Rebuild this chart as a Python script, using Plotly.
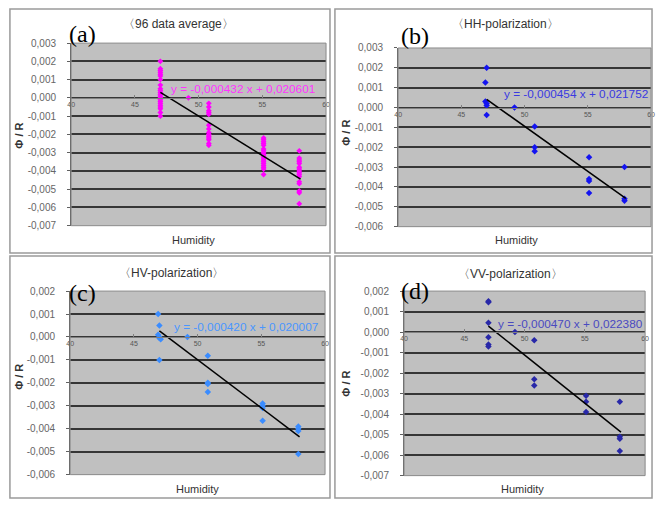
import plotly.graph_objects as go

# ---------------- data ----------------
a_x = [47]*22 + [49.2] + [50.8]*14 + [55.1]*18 + [57.9]*16
a_y = [0.0020, 0.0016, 0.0015, 0.0014, 0.0013, 0.0012, 0.0010, 0.0007, 0.0005, 0.0004, 0.0003,
       0.0002, 0.0001, 0.0000, -0.0001, -0.0002, -0.0003, -0.0004, -0.0005, -0.0006, -0.0008, -0.0010,
       0.0000,
       -0.0003, -0.0005, -0.0007, -0.0008, -0.0009, -0.0015, -0.0017, -0.0019, -0.0020, -0.0021,
       -0.0022, -0.0023, -0.0025, -0.0026,
       -0.0022, -0.0023, -0.0024, -0.0025, -0.0026, -0.0028, -0.0029, -0.0030, -0.0031, -0.0032,
       -0.0033, -0.0034, -0.0035, -0.0036, -0.0037, -0.0038, -0.0039, -0.0042,
       -0.0029, -0.0033, -0.0034, -0.0035, -0.0036, -0.0038, -0.0039, -0.0040, -0.0041, -0.0042,
       -0.0043, -0.0046, -0.0047, -0.0051, -0.0052, -0.0058]

b_x = [47, 46.9, 46.9, 47, 47, 47, 49.2, 50.8, 50.8, 50.8, 55.1, 55.1, 55.1, 55.1, 57.9, 57.9, 57.9]
b_y = [0.0020, 0.00126, 0.0003, 0.0002, 0.0001, -0.00037, 0.0000, -0.00095, -0.0020, -0.0022,
       -0.0025, -0.0036, -0.0037, -0.0043, -0.0030, -0.0046, -0.0047]

c_x = [46.9, 47, 46.9, 47, 47, 47.1, 47, 49.2, 50.8, 50.8, 50.8, 50.8, 55.1, 55.1, 55.1, 55.1,
       57.9, 57.9, 57.9, 57.9]
c_y = [0.0010, 0.0005, 0.0001, 0.0000, -0.00005, -0.0001, -0.0010, 0.0000, -0.00082, -0.0020,
       -0.00205, -0.0024, -0.0029, -0.0030, -0.0031, -0.00365, -0.0039, -0.0040, -0.0041, -0.0051]

d_x = [47, 47, 47, 47, 47, 47, 49.2, 50.8, 50.8, 50.8, 55.1, 55.1, 55.1, 57.9, 57.9, 57.9, 57.9]
d_y = [0.0015, 0.00145, 0.00046, -0.00025, -0.0006, -0.0007, 0.0000, -0.0004, -0.0023, -0.0026,
       -0.0031, -0.0034, -0.0039, -0.0034, -0.0051, -0.0052, -0.0058]

slopes = [-0.000432, -0.000454, -0.000420, -0.000470]
intercepts = [0.020601, 0.021752, 0.020007, 0.022380]
fit_x = [47, 58]

titles = ["〈96 data average〉", "〈HH-polarization〉", "〈HV-polarization〉", "〈VV-polarization〉"]
panel_tags = ["(a)", "(b)", "(c)", "(d)"]
eq_texts = ["y = -0,000432 x + 0,020601", "y = -0,000454 x + 0,021752",
            "y = -0,000420 x + 0,020007", "y = -0,000470 x + 0,022380"]
x_tickvals = [40, 45, 50, 55, 60]
x_ticktext = ["40", "45", "50", "55", "60"]
y_ranges = [(-0.007, 0.003), (-0.006, 0.003), (-0.006, 0.002), (-0.007, 0.002)]
y_tickvals_all = [0.003, 0.002, 0.001, 0.0, -0.001, -0.002, -0.003, -0.004, -0.005, -0.006, -0.007]
y_ticktext_all = ["0,003", "0,002", "0,001", "0,000", "-0,001", "-0,002", "-0,003",
                  "-0,004", "-0,005", "-0,006", "-0,007"]
x_title = "Humidity"
y_title = "Φ / R"

# ---------------- layout helpers ----------------
W, H = 658, 507
def px(x): return x / W
def py(y): return 1 - y / H

boxes = [(68, 38, 326, 225), (399, 43, 655, 226), (67, 292, 325, 480), (405, 292, 649, 481)]
frames = [(6, 3, 330, 253), (335, 3, 656, 253), (6, 256, 330, 504), (335, 256, 656, 504)]
marker_colors = ["#FF00FF", "#1414F0", "#3A8CFF", "#2828A8"]
marker_sizes = [4.5, 5, 5, 5]
eq_colors = ["#FF33FF", "#3A3AE0", "#4A96FF", "#4A4AC0"]
eq_pos = [(167, 85), (504, 90), (170, 329), (498, 326)]
title_pos = [(177, 18), (508, 18), (170, 273), (513, 274)]
tag_pos = [(64, 29), (400, 31), (64, 294), (400, 292)]
ytitle_pos = [(15, 133), (346, 130), (15, 380), (346, 387)]
xtitle_pos = [(192, 240), (519, 240), (196, 495), (525, 495)]

data_x = [a_x, b_x, c_x, d_x]
data_y = [a_y, b_y, c_y, d_y]

fig = go.Figure()
FONT = "Liberation Sans, Arial, sans-serif"
annotations = []
shapes = []

def ann(text, pos, font, xanchor="center", **kw):
    return dict(text=text, x=px(pos[0]), y=py(pos[1]), xref="paper", yref="paper",
                xanchor=xanchor, yanchor="middle", showarrow=False, font=font, **kw)

for i in range(4):
    sfx = "" if i == 0 else str(i + 1)
    xa, ya = "x" + sfx, "y" + sfx
    l, t, r, b = boxes[i]
    ymin, ymax = y_ranges[i]
    xdom = [px(l), px(r)]
    ydom = [py(b), py(t)]
    zero_frac = (0 - ymin) / (ymax - ymin)
    xpos = ydom[0] + zero_frac * (ydom[1] - ydom[0])

    fig.add_trace(go.Scatter(x=data_x[i], y=data_y[i], mode="markers", xaxis=xa, yaxis=ya,
                             marker=dict(symbol="diamond", size=marker_sizes[i], color=marker_colors[i]),
                             showlegend=False, hoverinfo="skip"))
    fit_y = [slopes[i] * xv + intercepts[i] for xv in fit_x]
    fig.add_trace(go.Scatter(x=fit_x, y=fit_y, mode="lines", xaxis=xa, yaxis=ya,
                             line=dict(color="black", width=1.5), showlegend=False, hoverinfo="skip"))

    tv = [v for v in y_tickvals_all if ymin - 1e-9 <= v <= ymax + 1e-9]
    tt = [y_ticktext_all[k] for k, v in enumerate(y_tickvals_all) if ymin - 1e-9 <= v <= ymax + 1e-9]

    fig.update_layout(**{
        "xaxis" + sfx: dict(domain=xdom, range=[40, 60], anchor="free", position=xpos,
                            tickvals=x_tickvals, ticktext=x_ticktext, showgrid=False, zeroline=False,
                            showline=True, linecolor="#808080", linewidth=1, ticks="inside",
                            ticklen=3, tickcolor="#808080", tickfont=dict(size=7, color="#555", family=FONT)),
        "yaxis" + sfx: dict(domain=ydom, range=[ymin, ymax], anchor=xa, tickvals=tv, ticktext=tt,
                            showgrid=True, gridcolor="#363636", gridwidth=1.6, zeroline=False,
                            showline=True, linecolor="#606060", linewidth=1.2, ticks="outside",
                            ticklen=3, tickcolor="#606060", ticklabelstandoff=9,
                            tickfont=dict(size=10, color="#666", family=FONT)),
    })

    shapes.append(dict(type="rect", xref=xa + " domain", yref=ya + " domain", x0=0, x1=1, y0=0, y1=1,
                       line=dict(color="#8a8a8a", width=1), layer="above"))
    fl, ft, fr, fb = frames[i]
    shapes.append(dict(type="rect", xref="paper", yref="paper", x0=px(fl), x1=px(fr), y0=py(fb), y1=py(ft),
                       line=dict(color="#9a9a9a", width=1.5)))

    annotations.append(ann(titles[i], title_pos[i], dict(size=12, color="#333", family=FONT)))
    annotations.append(ann(panel_tags[i], tag_pos[i],
                           dict(size=24, color="black", family="Liberation Serif, Times New Roman, serif"),
                           xanchor="left"))
    annotations.append(ann(eq_texts[i], eq_pos[i], dict(size=11.8, color=eq_colors[i], family=FONT),
                           xanchor="left"))
    annotations.append(ann("<b>" + y_title + "</b>", ytitle_pos[i], dict(size=11, color="#333", family=FONT),
                           textangle=-90))
    annotations.append(ann(x_title, xtitle_pos[i], dict(size=11, color="#333", family=FONT)))

fig.update_layout(width=W, height=H, margin=dict(l=0, r=0, t=0, b=0), paper_bgcolor="white",
                  plot_bgcolor="#C0C0C0", annotations=annotations, shapes=shapes, showlegend=False)

fig.write_html("out.html")
